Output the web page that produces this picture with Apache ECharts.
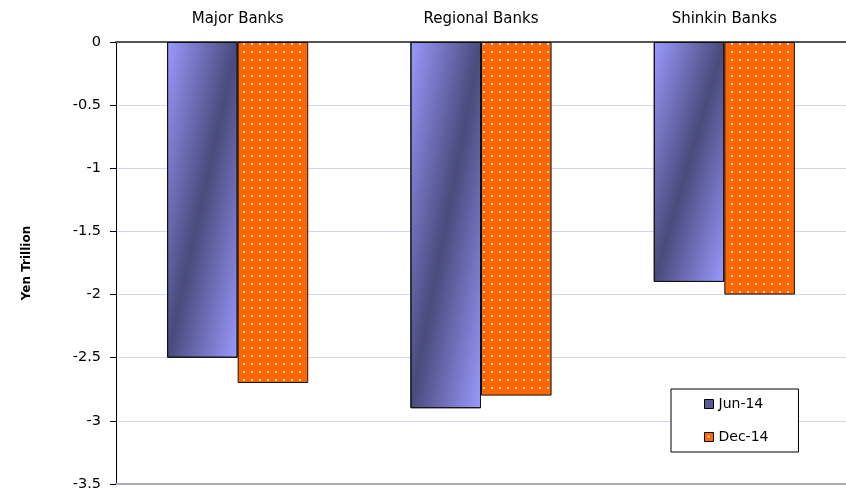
<!DOCTYPE html>
<html>
<head>
	<meta charset="UTF-8" />
	<title>Bank losses</title>
	<style>
		html, body { margin: 0; padding: 0; background: #fff; }
		#chart { width: 846px; height: 494px; }
	</style>
</head>
<body>
	<div id="chart"></div>
	<script type="text/javascript" src="https://cdn.jsdelivr.net/npm/echarts@6/dist/echarts.min.js"></script>
	<script type="text/javascript">
		// chart data
		const categories = ["Major Banks", "Regional Banks", "Shinkin Banks"];
		const jun14 = [-2.5, -2.9, -1.9];
		const dec14 = [-2.7, -2.8, -2.0];
		const seriesNames = ["Jun-14", "Dec-14"];

		const LIGHT = "#9a9aff", DARK = "#4a4a7c";

		// orange fill with white dots
		function dotPattern() {
			const c = document.createElement("canvas");
			c.width = 8; c.height = 8;
			const ctx = c.getContext("2d");
			ctx.fillStyle = "#ff6600";
			ctx.fillRect(0, 0, 8, 8);
			ctx.fillStyle = "rgba(255,235,220,0.9)";
			ctx.fillRect(3, 3, 2, 2);
			return c;
		}
		const orangeFill = { image: dotPattern(), repeat: "repeat" };

		// light-dark-light band running along the bar's anti-diagonal
		function shade(w, h) {
			const k = h * h / (h * h + w * w), j = w * w / (h * h + w * w);
			return new echarts.graphic.LinearGradient(0.5 - k, 0.5 - j, 0.5 + k, 0.5 + j, [
				{ offset: 0, color: LIGHT },
				{ offset: 0.5, color: DARK },
				{ offset: 1, color: LIGHT }
			]);
		}

		const chart = echarts.init(document.getElementById("chart"));
		const font = "DejaVu Sans";

		chart.setOption({
			animation: false,
			textStyle: { fontFamily: font },
			grid: { left: 116, right: 0, top: 42, bottom: 10 },
			legend: {
				orient: "vertical",
				left: 671, top: 389,
				backgroundColor: "#fff",
				borderColor: "#000", borderWidth: 1, borderRadius: 0,
				padding: [8, 30, 8, 33],
				itemGap: 19, itemWidth: 9, itemHeight: 9,
				textStyle: { fontSize: 14, color: "#000", fontFamily: font },
				data: [
					{ name: "Jun-14", icon: "rect", itemStyle: { color: "#5a5a98", borderColor: "#000", borderWidth: 1 } },
					{ name: "Dec-14", icon: "rect", itemStyle: { color: orangeFill, borderColor: "#000", borderWidth: 1 } }
				]
			},
			xAxis: [{
				type: "category",
				position: "top",
				data: categories,
				axisLine: { lineStyle: { color: "#555", width: 2 } },
				axisTick: { show: false },
				axisLabel: { fontSize: 15, color: "#000", margin: 15, fontFamily: font }
			}, {
				type: "category",
				position: "bottom",
				data: categories,
				axisLine: { onZero: false, lineStyle: { color: "#aaaab8", width: 2 } },
				axisTick: { show: false },
				axisLabel: { show: false }
			}],
			yAxis: {
				type: "value",
				min: -3.5, max: 0, interval: 0.5,
				name: "Yen Trillion",
				nameLocation: "middle",
				nameRotate: 90,
				nameGap: 83,
				nameTextStyle: { fontSize: 12, fontWeight: "bold", color: "#000", fontFamily: font },
				axisLine: { show: true, lineStyle: { color: "#000", width: 1 } },
				axisTick: { show: true, length: 6, lineStyle: { color: "#000" } },
				axisLabel: { fontSize: 14.5, color: "#000", margin: 15, fontFamily: font },
				splitLine: { lineStyle: { color: "#d6d6f4", width: 1 } }
			},
			series: [{
				name: seriesNames[0],
				type: "bar",
				data: jun14,
				barGap: "0%",
				barCategoryGap: "42%",
				itemStyle: { color: shade(70, 300), borderColor: "#111", borderWidth: 1 }
			}, {
				name: seriesNames[1],
				type: "bar",
				data: dec14,
				itemStyle: { color: orangeFill, borderColor: "#111", borderWidth: 1 }
			}]
		});

		// give each blue bar a gradient fitted to its own size
		const junData = chart.getModel().getSeriesByIndex(0).getData();
		chart.setOption({
			series: [{
				data: jun14.map(function (v, i) {
					const l = junData.getItemLayout(i);
					return { value: v, itemStyle: { color: shade(Math.abs(l.width), Math.abs(l.height)) } };
				})
			}]
		});
	</script>
</body>
</html>
